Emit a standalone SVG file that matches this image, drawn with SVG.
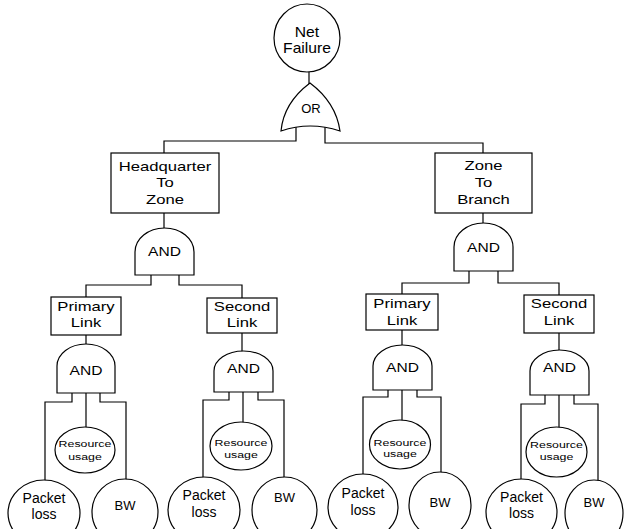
<svg xmlns="http://www.w3.org/2000/svg" width="624" height="529" viewBox="0 0 624 529">
<style>
.s{fill:#fff;stroke:#000;stroke-width:1.2}
.c{fill:none;stroke:#000;stroke-width:1.2}
text{font-family:"Liberation Sans",Arial,sans-serif;fill:#000;text-anchor:middle}
.bx{font-size:13px}
.g{font-size:13px}
.or{font-size:13px}
.rs{font-size:9.5px}
.pk{font-size:14px}
.bw{font-size:13px}
</style>
<rect width="624" height="529" fill="#fff"/>
<g id="connectors" class="c">
<path d="M309,72 V86"/>
<path d="M296,126 V141 H164 V153"/>
<path d="M325,126 V143 H483 V153"/>
<path d="M164,213 V230"/>
<path d="M483,213 V225"/>
<path d="M151,273 V285 H86 V297"/>
<path d="M179,273 V285 H242 V298"/>
<path d="M469,269 V283 H402 V294"/>
<path d="M498,269 V283 H559 V295"/>
<path d="M86,335 V346"/>
<path d="M72,391 V402 H45 V482"/>
<path d="M86,391 V429"/>
<path d="M100,391 V402 H126 V481"/>
<path d="M242,333 V352"/>
<path d="M229,390 V400 H203 V479"/>
<path d="M243,390 V424"/>
<path d="M258,390 V400 H284 V479"/>
<path d="M402,330 V347"/>
<path d="M388,388 V397 H363 V476"/>
<path d="M402,388 V422"/>
<path d="M417,388 V397 H441 V474"/>
<path d="M559,333 V352"/>
<path d="M545,393 V404 H521 V481"/>
<path d="M559,393 V429"/>
<path d="M574,393 V404 H598 V482"/>
</g>
<g id="net-failure">
<ellipse class="s" cx="307" cy="38" rx="33" ry="34"/>
<text class="pk" transform="translate(307 0) scale(1.12 1)" x="0" y="37">Net</text>
<text class="pk" transform="translate(307 0) scale(1.12 1)" x="0" y="53">Failure</text>
</g>
<g id="or-gate">
<path class="s" d="M281,131 C283,110 294,95 310,83 C326,95 337,110 340,131 Q310,121 281,131 Z"/>
<text class="or" x="311" y="113">OR</text>
</g>
<g id="headquarter-to-zone">
<rect class="s" x="111" y="153" width="108" height="60"/>
<g transform="translate(165 0) scale(1.28 1)">
<text class="bx" x="0" y="171">Headquarter</text>
<text class="bx" x="0" y="187">To</text>
<text class="bx" x="0" y="204">Zone</text>
</g>
</g>
<g id="zone-to-branch">
<rect class="s" x="435" y="153" width="97" height="60"/>
<g transform="translate(483.5 0) scale(1.28 1)">
<text class="bx" x="0" y="170">Zone</text>
<text class="bx" x="0" y="187">To</text>
<text class="bx" x="0" y="204">Branch</text>
</g>
</g>
<g id="and-hq">
<path class="s" d="M135,275 V252 A29.5,24 0 0 1 194,252 V275 Z"/>
<text class="g" transform="translate(164.5 0) scale(1.2 1)" x="0" y="256">AND</text>
</g>
<g id="and-zb">
<path class="s" d="M454,271 V247 A29.5,24 0 0 1 513,247 V271 Z"/>
<text class="g" transform="translate(483.5 0) scale(1.2 1)" x="0" y="252">AND</text>
</g>
<g id="primary-link-1">
<rect class="s" x="51" y="297" width="70" height="38"/>
<g transform="translate(86 0) scale(1.28 1)">
<text class="bx" x="0" y="311">Primary</text>
<text class="bx" x="0" y="327">Link</text>
</g>
</g>
<g id="and-1">
<path class="s" d="M57,393 V366 A29,22 0 0 1 115,366 V393 Z"/>
<text class="g" transform="translate(86 0) scale(1.2 1)" x="0" y="375">AND</text>
</g>
<g id="resource-1">
<ellipse class="s" cx="85" cy="450" rx="30" ry="23"/>
<g transform="translate(85 0) scale(1.3 1)">
<text class="rs" x="0" y="447">Resource</text>
<text class="rs" x="0" y="460">usage</text>
</g>
</g>
<g id="packet-loss-1">
<ellipse class="s" cx="44" cy="513" rx="36" ry="33"/>
<text class="pk" x="44" y="503">Packet</text>
<text class="pk" x="44" y="519">loss</text>
</g>
<g id="bw-1">
<ellipse class="s" cx="125" cy="512" rx="33" ry="33"/>
<text class="bw" x="125" y="510">BW</text>
</g>
<g id="second-link-1">
<rect class="s" x="207" y="298" width="70" height="35"/>
<g transform="translate(242 0) scale(1.28 1)">
<text class="bx" x="0" y="311">Second</text>
<text class="bx" x="0" y="327">Link</text>
</g>
</g>
<g id="and-2">
<path class="s" d="M214,392 V371 A29.5,20 0 0 1 273,371 V392 Z"/>
<text class="g" transform="translate(243.5 0) scale(1.2 1)" x="0" y="373">AND</text>
</g>
<g id="resource-2">
<ellipse class="s" cx="241" cy="446" rx="31" ry="24"/>
<g transform="translate(241 0) scale(1.3 1)">
<text class="rs" x="0" y="446">Resource</text>
<text class="rs" x="0" y="458">usage</text>
</g>
</g>
<g id="packet-loss-2">
<ellipse class="s" cx="204" cy="510" rx="36" ry="33"/>
<text class="pk" x="204" y="500">Packet</text>
<text class="pk" x="204" y="517">loss</text>
</g>
<g id="bw-2">
<ellipse class="s" cx="284.5" cy="510" rx="32.5" ry="33"/>
<text class="bw" x="284.5" y="502">BW</text>
</g>
<g id="primary-link-2">
<rect class="s" x="366" y="294" width="72" height="36"/>
<g transform="translate(402 0) scale(1.28 1)">
<text class="bx" x="0" y="308">Primary</text>
<text class="bx" x="0" y="325">Link</text>
</g>
</g>
<g id="and-3">
<path class="s" d="M373,390 V366 A29.5,21 0 0 1 432,366 V390 Z"/>
<text class="g" transform="translate(402.5 0) scale(1.2 1)" x="0" y="372">AND</text>
</g>
<g id="resource-3">
<ellipse class="s" cx="400" cy="444.5" rx="30.5" ry="24.5"/>
<g transform="translate(400 0) scale(1.3 1)">
<text class="rs" x="0" y="446">Resource</text>
<text class="rs" x="0" y="457">usage</text>
</g>
</g>
<g id="packet-loss-3">
<ellipse class="s" cx="363" cy="507" rx="35" ry="33"/>
<text class="pk" x="363" y="498">Packet</text>
<text class="pk" x="363" y="515">loss</text>
</g>
<g id="bw-3">
<ellipse class="s" cx="440" cy="505" rx="31" ry="33"/>
<text class="bw" x="440" y="507">BW</text>
</g>
<g id="second-link-2">
<rect class="s" x="524" y="295" width="70" height="38"/>
<g transform="translate(559 0) scale(1.28 1)">
<text class="bx" x="0" y="308">Second</text>
<text class="bx" x="0" y="325">Link</text>
</g>
</g>
<g id="and-4">
<path class="s" d="M530,395 V371 A29.5,21 0 0 1 589,371 V395 Z"/>
<text class="g" transform="translate(559.5 0) scale(1.2 1)" x="0" y="372">AND</text>
</g>
<g id="resource-4">
<ellipse class="s" cx="556.5" cy="452" rx="30.5" ry="25"/>
<g transform="translate(556.5 0) scale(1.3 1)">
<text class="rs" x="0" y="448">Resource</text>
<text class="rs" x="0" y="460">usage</text>
</g>
</g>
<g id="packet-loss-4">
<ellipse class="s" cx="521.5" cy="512" rx="35.5" ry="33"/>
<text class="pk" x="521.5" y="502">Packet</text>
<text class="pk" x="521.5" y="518">loss</text>
</g>
<g id="bw-4">
<ellipse class="s" cx="594" cy="513" rx="29" ry="33"/>
<text class="bw" x="594" y="507">BW</text>
</g>
</svg>
